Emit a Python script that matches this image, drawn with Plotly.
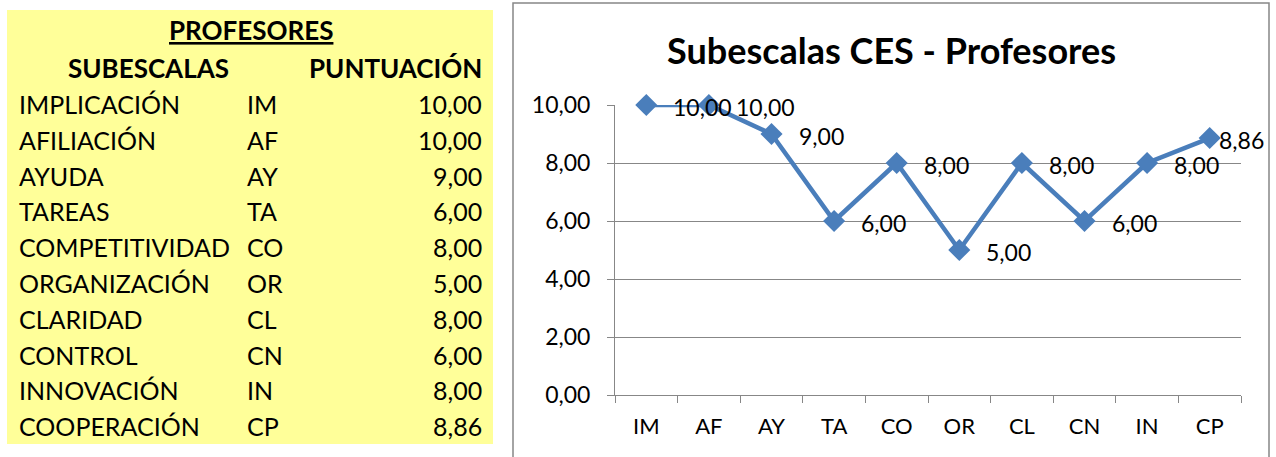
import plotly.graph_objects as go

# ---- data ----
subescalas = ["IMPLICACIÓN", "AFILIACIÓN", "AYUDA", "TAREAS", "COMPETITIVIDAD",
              "ORGANIZACIÓN", "CLARIDAD", "CONTROL", "INNOVACIÓN", "COOPERACIÓN"]
codes = ["IM", "AF", "AY", "TA", "CO", "OR", "CL", "CN", "IN", "CP"]
puntuacion = [10.00, 10.00, 9.00, 6.00, 8.00, 5.00, 8.00, 6.00, 8.00, 8.86]
table_title = "PROFESORES"
col_headers = ["SUBESCALAS", "PUNTUACIÓN"]
chart_title = "Subescalas CES - Profesores"
y_ticks = [0, 2, 4, 6, 8, 10]

W, H = 1276, 457
FONT = "Lato"
BLUE = "#4A7EBB"
GRID = "#878787"
YELLOW = "#FFFF99"


def px(x):
    return x / W


def py(y):
    return 1 - y / H


def fmt(v):
    return f"{v:.2f}".replace(".", ",")


fig = go.Figure()
fig.add_trace(go.Scatter(
    x=codes, y=puntuacion, mode="lines+markers",
    line=dict(color=BLUE, width=4.5),
    marker=dict(symbol="diamond", size=17, color=BLUE),
    hoverinfo="skip", showlegend=False, cliponaxis=False,
))

annotations = []
# data labels
for i, (c, v) in enumerate(zip(codes, puntuacion)):
    shift = 25 if i < len(codes) - 1 else 7
    annotations.append(dict(
        x=c, y=v, xref="x", yref="y", text=fmt(v), showarrow=False,
        xanchor="left", yanchor="middle", xshift=shift, yshift=-2,
        font=dict(family=FONT, size=23, color="black"),
    ))

# chart title
annotations.append(dict(
    x=px(891), y=py(50), xref="paper", yref="paper", text=f"<b>{chart_title}</b>",
    showarrow=False, xanchor="center", yanchor="middle",
    font=dict(family=FONT, size=36, color="black"),
))

# table
tfont = dict(family=FONT, size=25, color="black")
hfont = dict(family=FONT, size=26, color="black")
annotations.append(dict(
    x=px(251), y=py(30), xref="paper", yref="paper", text=f"<b><u>{table_title}</u></b>",
    showarrow=False, xanchor="center", yanchor="middle", font=hfont,
))
annotations.append(dict(
    x=px(148), y=py(68), xref="paper", yref="paper", text=f"<b>{col_headers[0]}</b>",
    showarrow=False, xanchor="center", yanchor="middle", font=hfont,
))
annotations.append(dict(
    x=px(484), y=py(68), xref="paper", yref="paper", text=f"<b>{col_headers[1]}</b>",
    showarrow=False, xanchor="right", yanchor="middle", font=hfont,
))
for i, (name, code, v) in enumerate(zip(subescalas, codes, puntuacion)):
    yy = py(104 + i * 35.8)
    annotations.append(dict(x=px(17), y=yy, xref="paper", yref="paper", text=name,
                            showarrow=False, xanchor="left", yanchor="middle", font=tfont))
    annotations.append(dict(x=px(245), y=yy, xref="paper", yref="paper", text=code,
                            showarrow=False, xanchor="left", yanchor="middle", font=tfont))
    annotations.append(dict(x=px(484), y=yy, xref="paper", yref="paper", text=fmt(v),
                            showarrow=False, xanchor="right", yanchor="middle", font=tfont))

shapes = [
    dict(type="rect", xref="paper", yref="paper", x0=px(7), x1=px(493), y0=py(444), y1=py(10),
         fillcolor=YELLOW, line=dict(width=0), layer="below"),
    dict(type="rect", xref="paper", yref="paper", x0=px(513), x1=px(1269), y0=py(470), y1=py(3),
         fillcolor="rgba(0,0,0,0)", line=dict(color=GRID, width=1.5), layer="below"),
]

fig.update_layout(
    width=W, height=H, margin=dict(l=0, r=0, t=0, b=0, autoexpand=False),
    paper_bgcolor="white", plot_bgcolor="white",
    separators=", ",
    annotations=annotations, shapes=shapes,
    xaxis=dict(
        domain=[px(615), px(1241)], type="category", range=[-0.5, 9.5],
        showgrid=False, showline=True, linecolor=GRID, linewidth=1,
        ticks="outside", tickson="boundaries", ticklen=7, tickcolor=GRID,
        tickfont=dict(family=FONT, size=22, color="black"),
        ticklabelstandoff=12, zeroline=False, automargin=False,
    ),
    yaxis=dict(
        domain=[py(395), py(105)], range=[0, 10], tickvals=y_ticks, tickformat=".2f",
        showgrid=True, gridcolor=GRID, gridwidth=1,
        showline=True, linecolor=GRID, linewidth=1,
        ticks="outside", ticklen=7, tickcolor=GRID,
        tickfont=dict(family=FONT, size=23, color="black"),
        ticklabelstandoff=12, zeroline=False, automargin=False,
    ),
)

fig.write_html(
    "out.html",
    config={"displayModeBar": False},
    post_script="document.body.style.margin='0';document.body.style.overflow='hidden';",
)
